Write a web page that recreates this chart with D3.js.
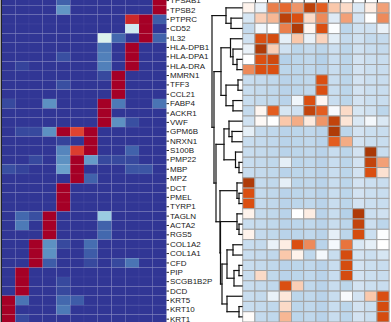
<!DOCTYPE html>
<html>
<head>
<meta charset="utf-8">
<script src="https://cdn.jsdelivr.net/npm/d3@7"></script>
<style>
  body { margin: 0; background: #fff; }
  svg { display: block; }
</style>
</head>
<body>
<div id="chart"></div>
<script>
/* ── Left heatmap: genes x 12 clusters, scaled 0..1 ── */
const genes = ["TPSAB1", "TPSB2", "PTPRC", "CD52", "IL32", "HLA-DPB1", "HLA-DPA1", "HLA-DRA",
  "MMRN1", "TFF3", "CCL21", "FABP4", "ACKR1", "VWF", "GPM6B", "NRXN1", "S100B", "PMP22", "MBP",
  "MPZ", "DCT", "PMEL", "TYRP1", "TAGLN", "ACTA2", "RGS5", "COL1A2", "COL1A1", "CFD", "PIP",
  "SCGB1B2P", "DCD", "KRT5", "KRT10", "KRT1"];

const leftValues = [
  [0, 0, 0, 0, 0.07, 0, 0, 0, 0, 0, 0, 1],
  [0, 0, 0, 0, 0.16, 0, 0, 0, 0, 0, 0, 1],
  [0, 0, 0, 0, 0, 0, 0, 0, 0, 0.92, 1, 0.06],
  [0, 0, 0, 0, 0, 0, 0, 0, 0, 0.37, 1, 0],
  [0, 0, 0, 0, 0, 0, 0, 0.4, 0.08, 0, 1, 0.07],
  [0, 0, 0, 0, 0, 0, 0, 0.11, 0, 1, 0, 0],
  [0, 0, 0, 0, 0.04, 0, 0, 0.12, 0, 1, 0, 0],
  [0, 0.02, 0, 0, 0, 0, 0, 0.12, 0, 1, 0, 0],
  [0, 0, 0, 0, 0, 0, 0, 0.03, 1, 0, 0, 0],
  [0, 0, 0, 0, 0.04, 0, 0, 0, 1, 0, 0, 0],
  [0, 0, 0, 0, 0, 0, 0, 0, 1, 0, 0, 0],
  [0.03, 0, 0, 0.15, 0, 0, 0, 1, 0.11, 0, 0, 0.1],
  [0, 0, 0, 0, 0, 0, 0, 1, 0, 0, 0, 0],
  [0, 0, 0, 0, 0, 0, 0, 1, 0.15, 0.04, 0, 0],
  [0, 0.03, 0.03, 0.15, 1, 0.87, 1, 0, 0, 0, 0, 0],
  [0, 0, 0, 0, 0.02, 0, 1, 0, 0, 0, 0, 0],
  [0, 0, 0, 0, 0.13, 0.88, 1, 0, 0, 0.07, 0, 0],
  [0, 0, 0.03, 0, 0.15, 1, 0.17, 0.03, 0.03, 0.03, 0, 0],
  [0.04, 0.02, 0, 0, 0.18, 1, 0, 0, 0, 0.05, 0.05, 0],
  [0, 0, 0, 0, 0, 1, 0.07, 0, 0, 0, 0, 0],
  [0, 0, 0, 0, 1, 0, 0, 0, 0, 0, 0, 0],
  [0, 0, 0, 0, 1, 0, 0, 0, 0, 0, 0, 0],
  [0, 0, 0, 0, 1, 0, 0, 0, 0, 0, 0, 0],
  [0, 0.08, 0.04, 1, 0, 0, 0, 0.27, 0, 0, 0, 0],
  [0, 0.11, 0, 1, 0, 0, 0, 0.07, 0, 0, 0, 0],
  [0, 0, 0, 1, 0, 0, 0, 0.08, 0, 0, 0, 0],
  [0, 0, 1, 0.15, 0.03, 0, 0.09, 0, 0, 0, 0, 0],
  [0, 0, 1, 0.15, 0, 0, 0.06, 0, 0, 0, 0, 0],
  [0, 0, 1, 0.06, 0, 0, 0.03, 0, 0.03, 0.1, 0, 0],
  [0, 1, 0, 0, 0, 0, 0, 0, 0, 0, 0, 0],
  [0, 1, 0, 0, 0.03, 0, 0, 0, 0, 0, 0, 0],
  [0, 1, 0, 0, 0.03, 0, 0, 0, 0, 0, 0, 0],
  [1, 0.1, 0, 0, 0.08, 0.06, 0, 0, 0, 0, 0, 0],
  [1, 0, 0, 0, 0.11, 0, 0, 0, 0, 0, 0, 0],
  [1, 0.03, 0, 0, 0, 0, 0, 0, 0, 0, 0, 0]
];

/* ── Right heatmap (clustered, z-scores) ── */
const rightValues = [
  [0.2, -0.3, 1.6, 1.8, 1.4, 2.6, 1.9, 0.9, 0.6, -0.5, 0.3, 1.3],
  [-0.55, 0.8, 1.1, 2.6, 2.1, 0.6, 1.5, -0.45, 1.3, -0.6, 0, 1.5],
  [-0.8, -0.2, 0, 1.6, 2.8, 0.15, 2.1, -0.05, -0.9, -0.65, -0.65, -0.3],
  [-0.65, 2.1, 2.2, -0.35, 0.9, -0.3, 0.7, -0.4, -0.8, -0.65, -0.8, -0.8],
  [-0.3, 2.8, 0.8, -0.65, -0.9, -0.8, -0.9, -0.7, -0.9, -0.65, -0.75, -0.8],
  [0, 2.1, 2.3, -1, -0.9, -0.85, -1, -0.75, -0.9, -0.6, -0.7, -0.75],
  [1.5, 2.1, 2.1, -0.9, -0.9, -0.85, -0.95, -0.75, -0.9, -0.6, -0.7, -0.75],
  [-0.75, -0.8, -0.85, -0.95, -0.9, -0.85, 2.1, -0.75, -0.9, -0.6, -0.7, -0.75],
  [-0.75, -0.8, -0.85, -0.95, -0.9, -0.85, 2.1, -0.75, -0.9, -0.6, -0.7, -0.75],
  [-0.75, -0.8, -0.85, -0.95, -0.2, 2.1, 0.15, -0.75, -0.9, -0.6, -0.7, -0.75],
  [-0.8, 0.15, 1.9, -0.55, -0.65, 2.5, 1.9, -0.1, 0.6, -0.55, -0.65, -0.9],
  [-0.65, 0.1, 0, 0.9, 1.2, 0.35, 1.4, 2.5, 0.45, -0.5, -0.15, -0.5],
  [-0.35, -0.8, -0.85, -0.95, -0.9, -0.85, -0.95, 2.8, -0.9, -0.6, -0.7, -0.75],
  [-0.75, -0.8, -0.85, -0.95, -0.9, -0.85, -0.95, 1.9, 1.2, -0.6, -0.7, -0.75],
  [-0.75, -0.8, -0.85, -0.95, -0.9, -0.85, -0.95, -0.75, -0.9, -0.6, 2.9, -0.75],
  [-0.75, -0.8, -0.85, -0.35, -0.9, -0.85, -0.95, -0.75, -0.9, -0.6, 2.5, 1.3],
  [-0.75, -0.8, -0.85, -0.95, -0.9, -0.85, -0.95, -0.75, -0.9, -0.6, 2.1, 0.5],
  [2.8, -0.8, -0.85, -0.35, -0.9, -0.85, -0.95, -0.75, -0.9, -0.6, -0.7, -0.75],
  [2.1, -0.8, -0.85, -0.95, -0.9, -0.85, -0.95, -0.75, -0.9, -0.6, -0.7, -0.75],
  [2.1, -0.8, -0.85, -0.95, -0.9, -0.85, -0.95, -0.75, -0.9, -0.6, -0.7, -0.75],
  [0.2, -0.8, -0.85, -0.95, 0, 0.3, -0.95, -0.75, -1, 2.8, -0.7, -0.65],
  [-0.75, -0.8, -0.85, -0.95, -0.9, -0.85, -0.95, -0.75, -0.9, 2.5, -0.7, -0.9],
  [0.2, -0.8, -0.85, -0.95, -0.9, -0.85, -0.95, -0.35, -0.9, 2.2, -0.7, -0.05],
  [-0.75, -0.8, -0.3, 0.3, 2.1, 1.5, -0.95, -0.15, 1.7, -0.5, -0.35, 0],
  [-0.75, -0.8, -0.85, 0.9, 0.2, -0.85, -0.15, -0.75, 2.2, -0.6, -0.7, -0.55],
  [-0.75, -0.8, -0.85, -0.95, -0.9, -0.85, -0.95, -0.75, 2.2, -0.6, -0.7, -0.75],
  [-0.75, 0.6, -0.85, -0.95, -0.9, -0.85, -0.95, -0.75, 2.2, -0.6, -0.7, -0.75],
  [-0.75, -0.8, -0.85, 2.1, 0.8, -0.85, -0.95, -0.75, -0.9, -0.6, -0.7, -0.75],
  [-0.75, -0.8, -0.3, 0.4, -0.9, -0.85, -0.95, -0.75, -0.1, -0.6, 0.9, 2.1],
  [-0.75, -0.8, -0.85, 0.6, -0.9, -0.85, -0.95, -0.75, -0.9, -0.6, -0.7, 2.2],
  [0.05, -0.8, -0.85, 1.1, -0.9, -0.85, -0.95, -0.75, -0.9, -0.6, -0.7, 2.2]
];

/* row dendrogram: [height, left, right], leaves = row index */
const rowTree = [30,
  [16, 0, [11, 1, 2]],
  [28,
    [21, [11.5, 3, [9, 4, [5, 5, 6]]], [16, [4, 7, 8], [9, 9, 10]]],
    [26,
      [18, [13, 11, [10, 12, 13]], [6.5, 14, [3, 15, 16]]],
      [22,
        [5, 17, [3, 18, 19]],
        [21.5,
          [5, 20, [3, 21, 22]],
          [20,
            [15, [9, 23, 24], [8, [3, 25, 26], 27]],
            [15, 28, [3, 29, 30]]
          ]
        ]
      ]
    ]
  ]
];

const W = 391, H = 322;
const svg = d3.select("#chart").append("svg")
  .attr("width", W).attr("height", H)
  .style("font-family", "'Liberation Sans', Arial, sans-serif");

/* ── Left heatmap ── */
const nCol = 12;
const xL = d3.scaleBand().domain(d3.range(nCol)).range([1.5, 166.5]);
const yL = d3.scaleBand().domain(genes).range([-4.1, -4.1 + genes.length * 9.37]);
const colL = t => d3.interpolateRdYlBu(1 - t);

const cellsL = [];
leftValues.forEach((row, i) => row.forEach((v, c) => cellsL.push({ gene: genes[i], c, v })));

svg.append("g").selectAll("rect")
  .data(cellsL)
  .join("rect")
  .attr("x", d => xL(d.c))
  .attr("y", d => yL(d.gene))
  .attr("width", xL.bandwidth())
  .attr("height", yL.bandwidth())
  .attr("fill", d => colL(d.v))
  .attr("stroke", "rgba(255,255,255,0.07)")
  .attr("stroke-width", 0.6);

// left edge line
svg.append("g")
  .attr("transform", "translate(0.8,0)")
  .call(d3.axisLeft(yL).tickSize(0).tickFormat(""))
  .call(g => g.select(".domain").attr("stroke", "#222").attr("stroke-width", 1.4));

// gene labels
svg.append("g")
  .attr("transform", `translate(${xL.range()[1]},0)`)
  .call(d3.axisRight(yL).tickSize(2.5).tickPadding(1))
  .call(g => g.select(".domain").remove())
  .call(g => g.selectAll(".tick line").attr("stroke", "#222"))
  .call(g => g.selectAll("text")
    .attr("font-size", 8)
    .attr("fill", "#1a1a1a")
    .attr("font-family", "'Liberation Sans', Arial, sans-serif"));

/* ── Right heatmap ── */
const nRow = rightValues.length;
const xR = d3.scaleBand().domain(d3.range(nCol)).range([242.7, 389.1]);
const yR = d3.scaleBand().domain(d3.range(nRow)).range([2.7, 2.7 + nRow * 10.3]);
const colR = d3.scaleLinear()
  .domain([-1, 0, 1, 2, 3])
  .range(["#b5d1e9", "#ffffff", "#f9c2a2", "#e05212", "#a33505"])
  .clamp(true);

const cellsR = [];
rightValues.forEach((row, r) => row.forEach((v, c) => cellsR.push({ r, c, v })));

svg.append("g").selectAll("rect")
  .data(cellsR)
  .join("rect")
  .attr("x", d => xR(d.c))
  .attr("y", d => yR(d.r))
  .attr("width", xR.bandwidth())
  .attr("height", yR.bandwidth())
  .attr("fill", d => colR(d.v))
  .attr("stroke", "#a3a3a3")
  .attr("stroke-width", 1);

// top ticks at column boundaries
const xEdge = d3.scaleLinear().domain([0, nCol]).range(xR.range());
svg.append("g")
  .call(d3.axisBottom(xEdge).tickValues(d3.range(1, nCol)).tickSize(2.7).tickFormat(""))
  .call(g => g.select(".domain").remove())
  .call(g => g.selectAll(".tick line").attr("stroke", "#222"));

/* ── Row dendrogram ── */
const hx = d3.scaleLinear().domain([0, 30]).range([242, 212]);
const segs = [];
function place(node) {
  if (typeof node === "number") return { x: hx(0), y: yR(node) + yR.bandwidth() / 2 };
  const [h, a, b] = node;
  const A = place(a), B = place(b), x = hx(h);
  segs.push([x, A.y, x, B.y], [x, A.y, A.x, A.y], [x, B.y, B.x, B.y]);
  return { x, y: (A.y + B.y) / 2 };
}
place(rowTree);

svg.append("g").selectAll("line")
  .data(segs)
  .join("line")
  .attr("x1", d => d[0]).attr("y1", d => d[1])
  .attr("x2", d => d[2]).attr("y2", d => d[3])
  .attr("stroke", "#111")
  .attr("stroke-width", 1.2)
  .attr("stroke-linecap", "square");
</script>
</body>
</html>
